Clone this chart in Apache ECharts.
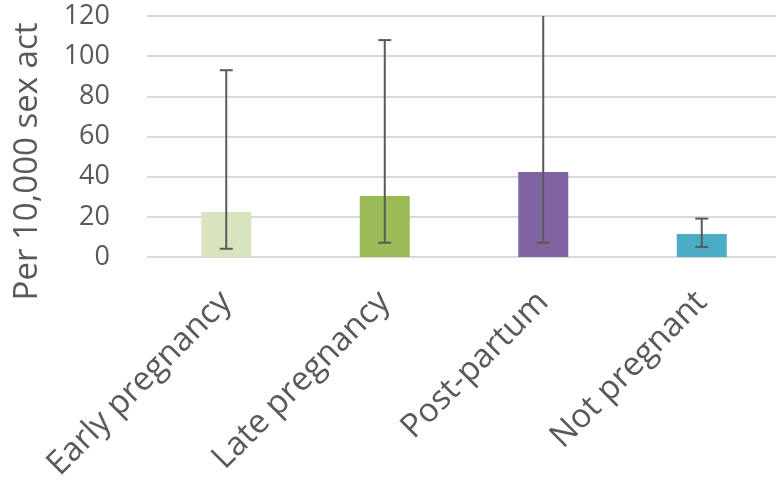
<!DOCTYPE html>
<html>
<head>
<meta charset="utf-8">
<script src="https://cdn.jsdelivr.net/npm/echarts@6/dist/echarts.min.js"></script>
<style>html,body{margin:0;padding:0;background:#fff}#c{width:776px;height:481px}</style>
</head>
<body>
<div id="c"></div>
<script>
const categories = ['Early pregnancy', 'Late pregnancy', 'Post-partum', 'Not pregnant'];
const values = [22.4, 30.4, 42.3, 11.5];
const lowerCI = [4.1, 7.1, 7.1, 5.0];
const upperCI = [93, 108, 130, 19.1];
const barColors = ['#d7e4bd', '#9bbb59', '#8064a2', '#4bacc6'];
const yTicks = [0, 20, 40, 60, 80, 100, 120];

const chart = echarts.init(document.getElementById('c'));
const font = "'Open Sans', sans-serif";
chart.setOption({
  animation: false,
  grid: { left: 147, right: -5, top: 16, bottom: 224, containLabel: false, outerBoundsMode: 'none' },
  xAxis: {
    type: 'category',
    data: categories,
    axisLine: { show: false },
    axisTick: { show: false },
    axisLabel: { rotate: 45, margin: 40, fontSize: 33, color: '#595959', fontFamily: font, interval: 0 }
  },
  yAxis: {
    type: 'value',
    min: yTicks[0], max: yTicks[yTicks.length - 1], interval: 20,
    name: 'Per 10,000 sex act',
    nameLocation: 'middle',
    nameGap: 103,
    nameTextStyle: { fontSize: 33, color: '#595959', fontFamily: font, padding: [0, 50, 0, 0] },
    axisLine: { show: false },
    axisTick: { show: false },
    axisLabel: { margin: 37, fontSize: 27, color: '#595959', fontFamily: font },
    splitLine: { lineStyle: { color: '#d9d9d9', width: 2 } }
  },
  series: [
    {
      type: 'bar',
      barWidth: 50,
      data: values.map((v, i) => ({ value: v, itemStyle: { color: barColors[i] } }))
    },
    {
      type: 'custom',
      clip: true,
      z: 5,
      data: categories.map((c, i) => [i, lowerCI[i], upperCI[i]]),
      renderItem: function (params, api) {
        const lo = api.coord([api.value(0), api.value(1)]);
        const hi = api.coord([api.value(0), api.value(2)]);
        const hw = 6.5;
        const st = { stroke: '#595959', lineWidth: 2 };
        return {
          type: 'group',
          children: [
            { type: 'line', shape: { x1: lo[0], y1: lo[1], x2: hi[0], y2: hi[1] }, style: st },
            { type: 'line', shape: { x1: lo[0] - hw, y1: lo[1], x2: lo[0] + hw, y2: lo[1] }, style: st },
            { type: 'line', shape: { x1: hi[0] - hw, y1: hi[1], x2: hi[0] + hw, y2: hi[1] }, style: st }
          ]
        };
      }
    }
  ]
});
</script>
</body>
</html>
